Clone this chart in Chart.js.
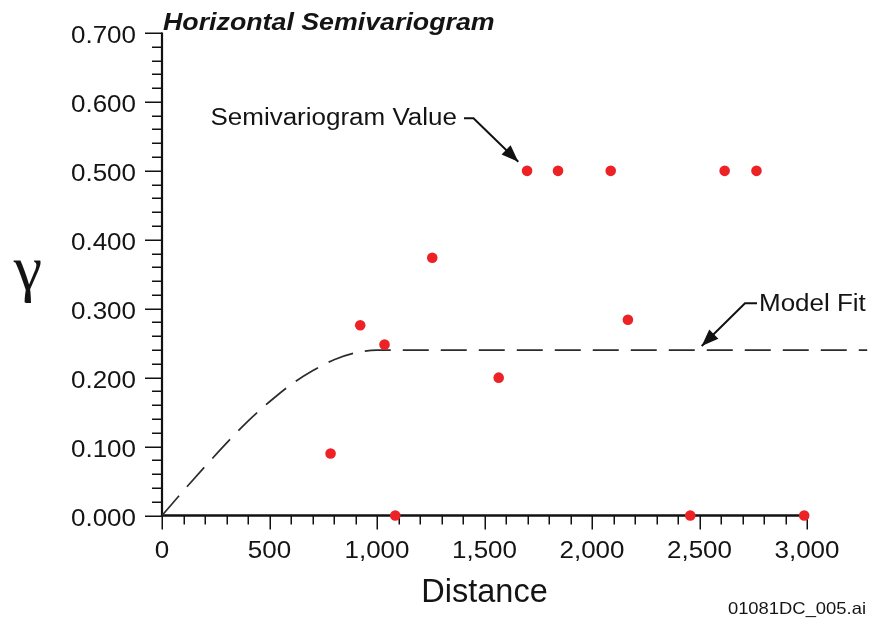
<!DOCTYPE html>
<html>
<head>
<meta charset="utf-8">
<script src="https://cdn.jsdelivr.net/npm/chart.js@4.4.1/dist/chart.umd.min.js"></script>
<style>
  html, body { margin: 0; padding: 0; background: #ffffff; }
  #wrap { width: 875px; height: 624px; position: relative; }
</style>
</head>
<body>
<div id="wrap"><canvas id="c" width="875" height="624"></canvas></div>
<script>
// ---- data ----
const distances   = [784, 922, 1035, 1085, 1257, 1566, 1698, 1842, 2087, 2167, 2457, 2617, 2765, 2987];
const gammaValues = [0.090, 0.276, 0.248, 0.000, 0.374, 0.200, 0.500, 0.500, 0.500, 0.284, 0.000, 0.500, 0.500, 0.000];

const modelDistances = [0, 100, 200, 300, 400, 500, 600, 700, 800, 900, 1000, 3280];
const modelGamma     = [0, 0.036, 0.071, 0.105, 0.137, 0.165, 0.190, 0.210, 0.226, 0.236, 0.240, 0.240];

const xTickValues = [0, 500, 1000, 1500, 2000, 2500, 3000];
const xTickLabels = ['0', '500', '1,000', '1,500', '2,000', '2,500', '3,000'];
const yTickValues = [0, 0.1, 0.2, 0.3, 0.4, 0.5, 0.6, 0.7];
const yTickLabels = ['0.000', '0.100', '0.200', '0.300', '0.400', '0.500', '0.600', '0.700'];
const xMinorStep = 100;
const yMinorStep = 0.02;

const titleText = 'Horizontal Semivariogram';
const xTitle = 'Distance';
const yTitle = '\u03B3';
const footerText = '01081DC_005.ai';
const noteValue = 'Semivariogram Value';
const noteModel = 'Model Fit';

// ---- helpers ----
const SX = 1.115;
const SANS = '"Liberation Sans", Arial, Helvetica, sans-serif';
function txt(ctx, s, x, y, font, align, sx) {
  ctx.save();
  ctx.translate(x, y);
  ctx.scale(sx, 1);
  ctx.font = font;
  ctx.textAlign = align;
  ctx.textBaseline = 'alphabetic';
  ctx.fillStyle = '#141414';
  ctx.fillText(s, 0, 0);
  ctx.restore();
}
function arrow(ctx, pts) {
  ctx.save();
  ctx.strokeStyle = '#111';
  ctx.fillStyle = '#111';
  ctx.lineWidth = 2;
  ctx.beginPath();
  ctx.moveTo(pts[0][0], pts[0][1]);
  for (let i = 1; i < pts.length; i++) ctx.lineTo(pts[i][0], pts[i][1]);
  const a = pts[pts.length - 2], b = pts[pts.length - 1];
  const ang = Math.atan2(b[1] - a[1], b[0] - a[0]);
  const L = 17, W = 6.5;
  ctx.stroke();
  ctx.beginPath();
  ctx.moveTo(b[0], b[1]);
  ctx.lineTo(b[0] - L * Math.cos(ang) + W * Math.sin(ang), b[1] - L * Math.sin(ang) - W * Math.cos(ang));
  ctx.lineTo(b[0] - L * Math.cos(ang) - W * Math.sin(ang), b[1] - L * Math.sin(ang) + W * Math.cos(ang));
  ctx.closePath();
  ctx.fill();
  ctx.restore();
}

const axesPlugin = {
  id: 'axesPlugin',
  beforeDatasetsDraw(chart) {
    const ctx = chart.ctx;
    const xs = chart.scales.x, ys = chart.scales.y;
    const left = xs.getPixelForValue(0), right = xs.getPixelForValue(3000);
    const bottom = ys.getPixelForValue(0), top = ys.getPixelForValue(0.7);
    ctx.save();
    ctx.strokeStyle = '#111';
    ctx.lineCap = 'butt';
    ctx.lineWidth = 1.5;
    ctx.beginPath();
    const ny = Math.round(0.7 / yMinorStep);
    for (let i = 0; i <= ny; i++) {
      const y = Math.round(ys.getPixelForValue(i * yMinorStep)) + 0.25;
      const len = (i % 5 === 0) ? 17 : 10;
      ctx.moveTo(left, y); ctx.lineTo(left - len, y);
    }
    const nx = Math.round(3000 / xMinorStep);
    for (let i = 0; i <= nx; i++) {
      const x = Math.round(xs.getPixelForValue(i * xMinorStep)) + 0.25;
      const len = (i % 5 === 0) ? 14 : 9;
      ctx.moveTo(x, bottom); ctx.lineTo(x, bottom + len);
    }
    ctx.stroke();
    ctx.lineWidth = 2.2;
    ctx.beginPath();
    ctx.moveTo(left, top - 0.5); ctx.lineTo(left, bottom + 1);
    ctx.stroke();
    ctx.lineWidth = 2.6;
    ctx.beginPath();
    ctx.moveTo(left - 1, bottom); ctx.lineTo(right + 1, bottom);
    ctx.stroke();
    ctx.restore();
  },
  afterDraw(chart) {
    const ctx = chart.ctx;
    const xs = chart.scales.x, ys = chart.scales.y;
    const tickFont = '23.3px ' + SANS;
    yTickValues.forEach((v, i) => {
      txt(ctx, yTickLabels[i], 136, ys.getPixelForValue(v) + 10, tickFont, 'right', SX);
    });
    xTickValues.forEach((v, i) => {
      txt(ctx, xTickLabels[i], xs.getPixelForValue(v), 557.5, tickFont, 'center', SX);
    });
    txt(ctx, titleText, 163, 30, 'italic bold 24px ' + SANS, 'left', SX);
    const cx = (xs.getPixelForValue(0) + xs.getPixelForValue(3000)) / 2;
    txt(ctx, xTitle, cx, 601.7, '32.5px ' + SANS, 'center', 1);
    txt(ctx, yTitle, 28, 289, '64px "Liberation Serif", "Times New Roman", serif', 'center', 1);
    txt(ctx, footerText, 866, 614, '16.5px ' + SANS, 'right', SX);
    txt(ctx, noteValue, 210.5, 125, '23.3px ' + SANS, 'left', SX);
    arrow(ctx, [[464, 118.3], [473.5, 118.3], [518.3, 161.7]]);
    txt(ctx, noteModel, 759, 310.7, '23.3px ' + SANS, 'left', SX);
    arrow(ctx, [[757, 303.3], [745, 303.3], [701.7, 346]]);
  }
};

const pointData = distances.map((d, i) => ({ x: d, y: gammaValues[i] }));
const modelData = modelDistances.map((d, i) => ({ x: d, y: modelGamma[i] }));

new Chart(document.getElementById('c'), {
  type: 'scatter',
  data: {
    datasets: [
      {
        label: 'Semivariogram Value',
        data: pointData,
        pointRadius: 5.3,
        pointHoverRadius: 5.3,
        pointBackgroundColor: '#ec2227',
        pointBorderWidth: 0,
        borderColor: '#ec2227',
        showLine: false,
        clip: false,
        order: 0
      },
      {
        label: 'Model Fit',
        data: modelData,
        showLine: true,
        pointRadius: 0,
        borderColor: '#2b2b2b',
        borderWidth: 1.7,
        borderDash: [26, 12],
        cubicInterpolationMode: 'monotone',
        fill: false,
        clip: false,
        order: 1
      }
    ]
  },
  options: {
    responsive: false,
    devicePixelRatio: 1,
    animation: false,
    layout: { padding: { left: 162, right: 68, top: 33, bottom: 108.5 } },
    plugins: { legend: { display: false }, tooltip: { enabled: false }, title: { display: false } },
    scales: {
      x: { type: 'linear', min: 0, max: 3000, display: false },
      y: { type: 'linear', min: 0, max: 0.7, display: false }
    }
  },
  plugins: [axesPlugin]
});
</script>
</body>
</html>
